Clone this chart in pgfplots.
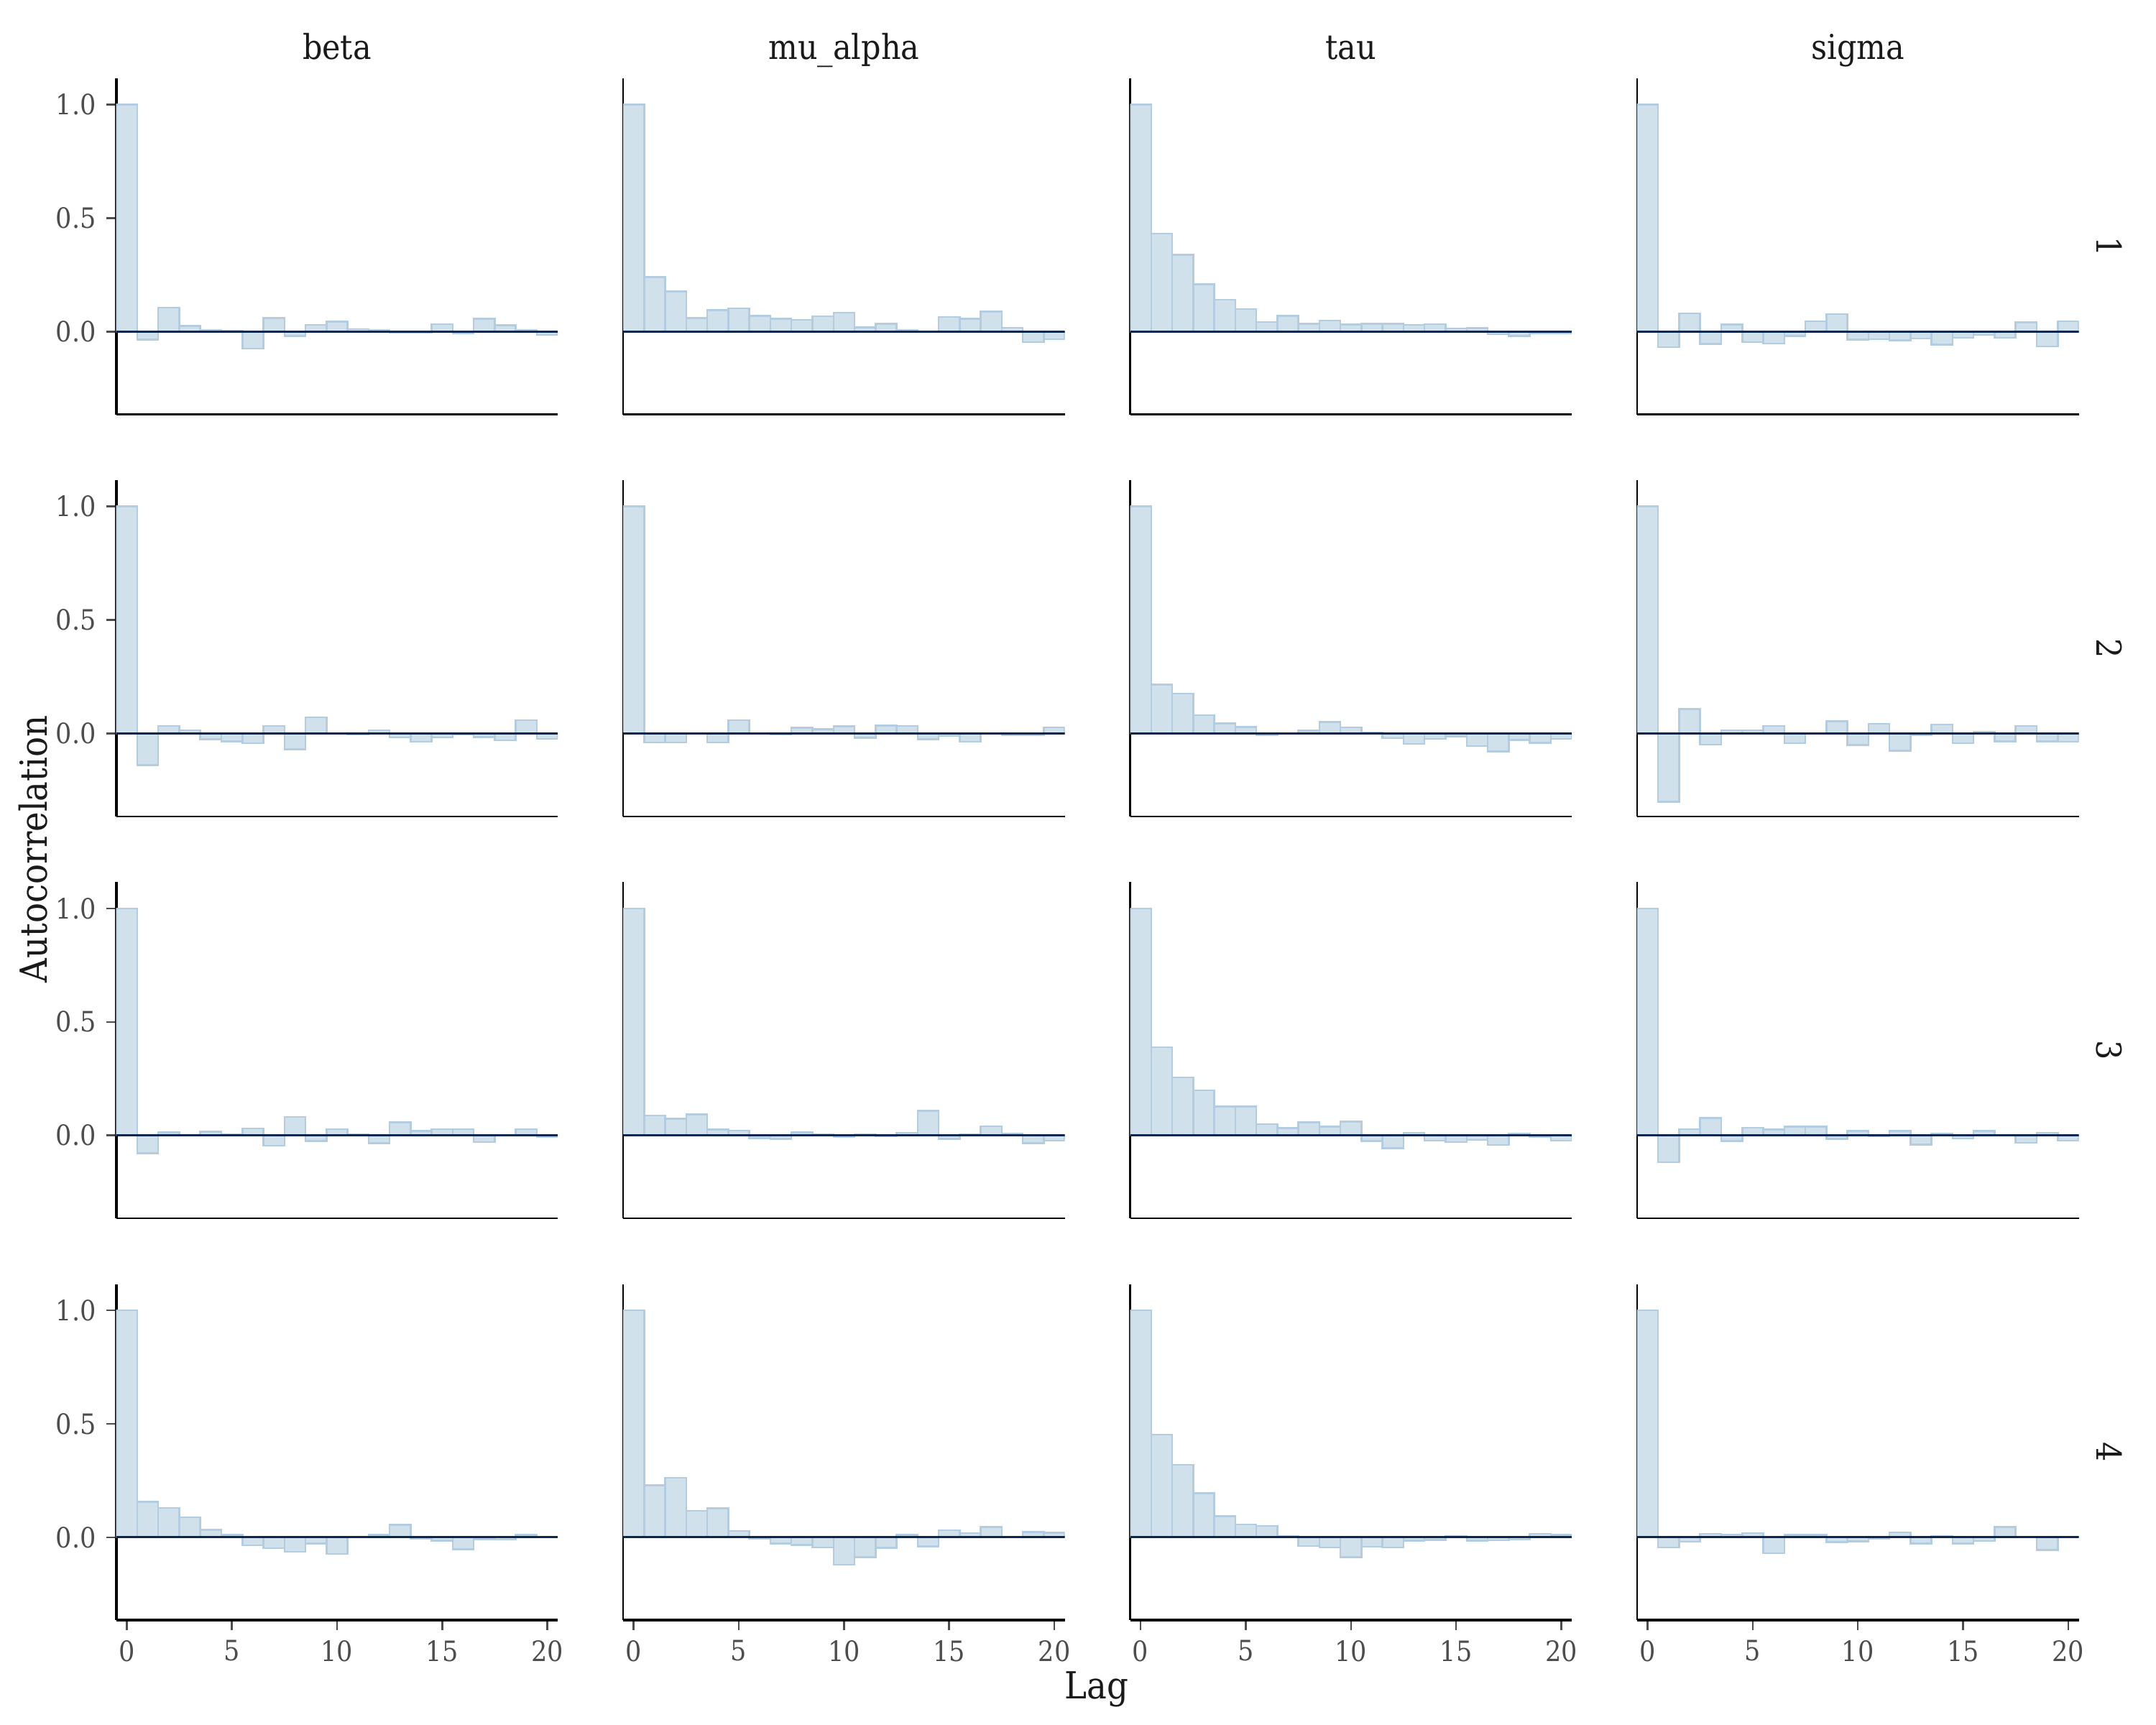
\documentclass[border=0pt]{standalone}
\usepackage{fontspec}
\setmainfont[FakeStretch=0.9]{DejaVu Serif}
\usepackage{pgfplots}
\usepackage{pgfplotstable}
\pgfplotsset{compat=1.18}

\definecolor{barfill}{RGB}{209,225,235}
\definecolor{baredge}{RGB}{180,204,224}
\definecolor{zeroc}{RGB}{11,39,80}
\definecolor{tickgray}{RGB}{77,77,77}
\definecolor{txt}{RGB}{26,26,26}

\pgfplotstableread{
lag b1 m1 t1 s1 b2 m2 t2 s2 b3 m3 t3 s3 b4 m4 t4 s4
0 1 1 1 1 1 1 1 1 1 1 1 1 1 1 1 1
1 -0.035 0.240 0.432 -0.068 -0.140 -0.039 0.216 -0.300 -0.078 0.088 0.388 -0.118 0.156 0.229 0.453 -0.045
2 0.105 0.176 0.338 0.081 0.034 -0.040 0.175 0.107 0.014 0.074 0.256 0.027 0.130 0.263 0.320 -0.020
3 0.025 0.059 0.209 -0.054 0.015 0.000 0.080 -0.049 0.000 0.092 0.198 0.077 0.089 0.116 0.195 0.016
4 0.006 0.094 0.141 0.031 -0.026 -0.040 0.044 0.015 0.016 0.026 0.127 -0.024 0.033 0.128 0.093 0.013
5 0.003 0.103 0.100 -0.046 -0.034 0.059 0.029 0.015 0.005 0.021 0.127 0.034 0.011 0.028 0.056 0.018
6 -0.075 0.069 0.043 -0.053 -0.043 0.000 -0.007 0.034 0.030 -0.012 0.049 0.026 -0.035 -0.005 0.051 -0.070
7 0.060 0.057 0.069 -0.019 0.033 -0.005 0.000 -0.043 -0.045 -0.015 0.032 0.039 -0.048 -0.028 0.004 0.010
8 -0.020 0.051 0.034 0.046 -0.070 0.025 0.012 0.000 0.081 0.014 0.058 0.039 -0.063 -0.033 -0.038 0.010
9 0.030 0.067 0.048 0.077 0.072 0.019 0.050 0.054 -0.024 0.005 0.038 -0.015 -0.028 -0.044 -0.045 -0.021
10 0.044 0.084 0.031 -0.035 -0.002 0.031 0.027 -0.050 0.027 -0.005 0.060 0.019 -0.073 -0.120 -0.088 -0.018
11 0.010 0.019 0.034 -0.033 -0.005 -0.019 0.005 0.043 0.005 0.004 -0.024 -0.003 0.000 -0.088 -0.041 -0.006
12 0.007 0.034 0.034 -0.039 0.015 0.035 -0.020 -0.076 -0.034 -0.004 -0.056 0.020 0.011 -0.046 -0.044 0.021
13 -0.004 0.006 0.029 -0.031 -0.017 0.033 -0.046 -0.008 0.057 0.012 0.011 -0.041 0.055 0.010 -0.015 -0.028
14 -0.005 -0.001 0.032 -0.058 -0.036 -0.026 -0.023 0.040 0.020 0.108 -0.023 0.009 -0.005 -0.040 -0.011 0.004
15 0.032 0.065 0.013 -0.027 -0.017 -0.011 -0.012 -0.042 0.028 -0.015 -0.030 -0.014 -0.015 0.031 0.004 -0.028
16 -0.008 0.056 0.015 -0.015 -0.005 -0.036 -0.056 0.008 0.028 0.006 -0.020 0.020 -0.053 0.018 -0.015 -0.016
17 0.057 0.088 -0.012 -0.027 -0.015 0.000 -0.079 -0.034 -0.030 0.040 -0.042 0.000 -0.008 0.045 -0.013 0.045
18 0.028 0.017 -0.019 0.040 -0.030 -0.008 -0.029 0.034 0.000 0.008 0.008 -0.033 -0.010 0.000 -0.010 -0.001
19 0.006 -0.046 -0.007 -0.065 0.059 -0.008 -0.041 -0.034 0.027 -0.034 -0.008 0.011 0.011 0.023 0.015 -0.056
20 -0.014 -0.034 -0.008 0.045 -0.023 0.027 -0.024 -0.036 -0.008 -0.023 -0.023 -0.023 0.000 0.020 0.011 0.000
}\acf

\pgfplotsset{
  common/.style={
    scale only axis, width=147.5bp, height=112.2bp,
    xmin=-0.5, xmax=20.5, ymin=-0.365, ymax=1.115,
    axis x line*=bottom, axis y line*=left,
    axis line style={-, black, line width=0.55bp},
    xtick=\empty, ytick=\empty,
    tick align=outside, major tick length=3.2bp,
    tick style={color=tickgray, line width=0.6bp},
    tick label style={font=\fontsize{9.4}{10}\selectfont, text=tickgray},
  },
  leftcol/.style={ytick={0,0.5,1}, yticklabels={0.0,0.5,1.0},
    y axis line style={line width=0.9bp}},
  bottomrow/.style={xtick={0,5,10,15,20}, xticklabels={0,5,10,15,20},
    x axis line style={line width=0.9bp}},
  bars/.style={ybar, bar width=1, fill=barfill, draw=baredge, line width=0.6bp},
  zeroline/.style={color=zeroc, line width=0.7bp, forget plot},
}

\newcommand{\panel}[4]{%
\begin{axis}[common, at={(#1,#2)}, anchor=south west, #4]
\addplot[bars] table[x=lag, y=#3]{\acf};
\addplot[zeroline] coordinates {(-0.5,0) (20.5,0)};
\end{axis}}

\begin{document}
\begin{tikzpicture}
\useasboundingbox (0,0) rectangle (720bp,576bp);
% row 1
\panel{38.8bp}{437.6bp}{b1}{leftcol}
\panel{208.1bp}{437.6bp}{m1}{}
\panel{377.4bp}{437.6bp}{t1}{}
\panel{546.7bp}{437.6bp}{s1}{}
% row 2
\panel{38.8bp}{303.4bp}{b2}{leftcol}
\panel{208.1bp}{303.4bp}{m2}{}
\panel{377.4bp}{303.4bp}{t2}{}
\panel{546.7bp}{303.4bp}{s2}{}
% row 3
\panel{38.8bp}{169.2bp}{b3}{leftcol}
\panel{208.1bp}{169.2bp}{m3}{}
\panel{377.4bp}{169.2bp}{t3}{}
\panel{546.7bp}{169.2bp}{s3}{}
% row 4
\panel{38.8bp}{35.0bp}{b4}{leftcol,bottomrow}
\panel{208.1bp}{35.0bp}{m4}{bottomrow}
\panel{377.4bp}{35.0bp}{t4}{bottomrow}
\panel{546.7bp}{35.0bp}{s4}{bottomrow}

\begin{scope}[every node/.style={text=txt, inner sep=0pt}]
\node[anchor=base, font=\fontsize{11.5}{13}\selectfont] at (112.55bp,556.1bp) {beta};
\node[anchor=base, font=\fontsize{11.5}{13}\selectfont] at (281.85bp,556.1bp) {mu\_alpha};
\node[anchor=base, font=\fontsize{11.5}{13}\selectfont] at (451.15bp,556.1bp) {tau};
\node[anchor=base, font=\fontsize{11.5}{13}\selectfont] at (620.45bp,556.1bp) {sigma};
\node[anchor=base, rotate=-90, font=\fontsize{11.5}{13}\selectfont] at (700.3bp,493.7bp) {1};
\node[anchor=base, rotate=-90, font=\fontsize{11.5}{13}\selectfont] at (700.3bp,359.5bp) {2};
\node[anchor=base, rotate=-90, font=\fontsize{11.5}{13}\selectfont] at (700.3bp,225.3bp) {3};
\node[anchor=base, rotate=-90, font=\fontsize{11.5}{13}\selectfont] at (700.3bp,91.1bp) {4};
\node[anchor=base, font=\fontsize{12.5}{14}\selectfont] at (366.3bp,8.7bp) {Lag};
\node[anchor=base, rotate=90, font=\fontsize{12.5}{14}\selectfont] at (15.6bp,292.5bp) {Autocorrelation};
\end{scope}
\end{tikzpicture}
\end{document}
